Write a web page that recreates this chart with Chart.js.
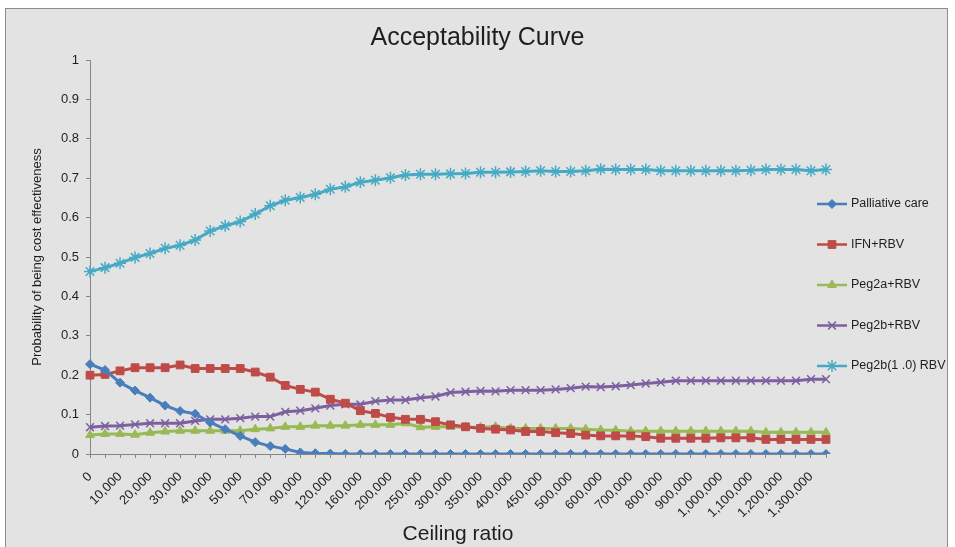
<!DOCTYPE html>
<html>
<head>
<meta charset="utf-8">
<script src="https://cdn.jsdelivr.net/npm/chart.js@4.4.1/dist/chart.umd.min.js"></script>
<style>
  html, body { margin: 0; padding: 0; background: #ffffff; }
  canvas { display: block; }
</style>
</head>
<body>
<canvas id="c" width="955" height="547"></canvas>
<script>
// ---- Data ----
const ceilingRatios = [
  0, 5000, 10000, 15000, 20000, 25000, 30000, 35000, 40000, 45000,
  50000, 60000, 70000, 80000, 90000, 100000, 120000, 140000, 160000, 180000,
  200000, 225000, 250000, 275000, 300000, 325000, 350000, 375000, 400000, 425000,
  450000, 475000, 500000, 550000, 600000, 650000, 700000, 750000, 800000, 850000,
  900000, 950000, 1000000, 1050000, 1100000, 1150000, 1200000, 1250000, 1300000, 1350000
];
const tickLabels = ceilingRatios.map(v => v.toLocaleString('en-US'));

const palliativeCare = [
  0.228, 0.213, 0.181, 0.161, 0.143, 0.123, 0.109, 0.102, 0.080, 0.063,
  0.046, 0.030, 0.020, 0.013, 0.004, 0.002, 0.001, 0, 0, 0,
  0, 0, 0, 0, 0, 0, 0, 0, 0, 0,
  0, 0, 0, 0, 0, 0, 0, 0, 0, 0,
  0, 0, 0, 0, 0, 0, 0, 0, 0, 0
];
const ifnRbv = [
  0.200, 0.202, 0.211, 0.219, 0.219, 0.219, 0.226, 0.217, 0.217, 0.217,
  0.217, 0.208, 0.195, 0.174, 0.164, 0.157, 0.139, 0.129, 0.110, 0.103,
  0.093, 0.088, 0.088, 0.082, 0.074, 0.069, 0.065, 0.063, 0.061, 0.057,
  0.057, 0.054, 0.052, 0.048, 0.046, 0.046, 0.046, 0.044, 0.040, 0.040,
  0.040, 0.040, 0.041, 0.041, 0.041, 0.037, 0.037, 0.037, 0.037, 0.037
];
const peg2aRbv = [
  0.048, 0.051, 0.051, 0.049, 0.054, 0.057, 0.059, 0.059, 0.059, 0.059,
  0.059, 0.063, 0.065, 0.069, 0.069, 0.072, 0.072, 0.072, 0.074, 0.074,
  0.074, 0.078, 0.068, 0.069, 0.069, 0.068, 0.068, 0.069, 0.065, 0.065,
  0.065, 0.065, 0.065, 0.063, 0.061, 0.060, 0.058, 0.058, 0.058, 0.058,
  0.058, 0.058, 0.058, 0.058, 0.058, 0.055, 0.055, 0.055, 0.055, 0.055
];
const peg2bRbv = [
  0.068, 0.071, 0.072, 0.075, 0.078, 0.078, 0.078, 0.084, 0.088, 0.088,
  0.091, 0.095, 0.095, 0.107, 0.110, 0.116, 0.123, 0.126, 0.126, 0.134,
  0.137, 0.137, 0.143, 0.146, 0.156, 0.158, 0.160, 0.159, 0.162, 0.162,
  0.162, 0.164, 0.167, 0.171, 0.170, 0.172, 0.175, 0.179, 0.182, 0.186,
  0.186, 0.186, 0.186, 0.186, 0.186, 0.186, 0.186, 0.186, 0.190, 0.190
];
const peg2b10Rbv = [
  0.463, 0.473, 0.484, 0.499, 0.509, 0.522, 0.530, 0.543, 0.566, 0.579,
  0.590, 0.609, 0.630, 0.644, 0.651, 0.659, 0.672, 0.678, 0.690, 0.695,
  0.701, 0.708, 0.710, 0.710, 0.711, 0.712, 0.715, 0.715, 0.716, 0.717,
  0.719, 0.717, 0.717, 0.719, 0.723, 0.722, 0.722, 0.722, 0.719, 0.719,
  0.719, 0.719, 0.719, 0.719, 0.720, 0.722, 0.722, 0.722, 0.719, 0.722
];
const yTicks = [0, 0.1, 0.2, 0.3, 0.4, 0.5, 0.6, 0.7, 0.8, 0.9, 1];

const FONT = "'Liberation Sans', Arial, sans-serif";
const AXIS = '#868686';
const TXT = '#1e1e1e';

const series = [
  { label: 'Palliative care',  data: palliativeCare, color: '#4a7ebb', pointStyle: 'rectRot',  radius: 4.5 },
  { label: 'IFN+RBV',          data: ifnRbv,         color: '#be4b48', pointStyle: 'rect',     radius: 5.5 },
  { label: 'Peg2a+RBV',        data: peg2aRbv,       color: '#98b954', pointStyle: 'triangle', radius: 5 },
  { label: 'Peg2b+RBV',        data: peg2bRbv,       color: '#7d60a0', pointStyle: 'crossRot', radius: 5.5 },
  { label: 'Peg2b(1 .0) RBV',  data: peg2b10Rbv,     color: '#46aac5', pointStyle: 'star',     radius: 6 }
];

const bgPlugin = {
  id: 'bg',
  beforeDraw(chart) {
    const ctx = chart.ctx;
    ctx.save();
    ctx.fillStyle = '#ffffff';
    ctx.fillRect(0, 0, chart.width, chart.height);
    ctx.fillStyle = '#e2e3e2';
    ctx.fillRect(5, 8, 943, chart.height);
    ctx.strokeStyle = '#8c8c8c';
    ctx.lineWidth = 1;
    ctx.strokeRect(5.5, 8.5, 942, chart.height + 10);
    ctx.restore();
  }
};

const legendPlugin = {
  id: 'sideLegend',
  afterDraw(chart) {
    const ctx = chart.ctx;
    ctx.save();
    chart.data.datasets.forEach((ds, i) => {
      const y = 204 + i * 40.5;
      ctx.strokeStyle = ds.borderColor;
      ctx.lineWidth = 2.5;
      ctx.beginPath();
      ctx.moveTo(817, y);
      ctx.lineTo(847, y);
      ctx.stroke();
      ctx.fillStyle = ds.pointBackgroundColor;
      ctx.strokeStyle = ds.pointBorderColor;
      ctx.lineWidth = ds.pointBorderWidth;
      Chart.helpers.drawPoint(ctx, { pointStyle: ds.pointStyle, radius: ds.pointRadius, rotation: 0, borderWidth: ds.pointBorderWidth }, 832, y);
      ctx.fillStyle = TXT;
      ctx.font = '12.5px ' + FONT;
      ctx.textAlign = 'left';
      ctx.textBaseline = 'middle';
      ctx.fillText(ds.label, 851, y);
    });
    ctx.restore();
  }
};

new Chart(document.getElementById('c'), {
  type: 'line',
  data: {
    labels: tickLabels,
    datasets: series.map(s => ({
      label: s.label,
      data: s.data,
      borderColor: s.color,
      backgroundColor: s.color,
      pointBackgroundColor: s.color,
      pointBorderColor: s.color,
      pointBorderWidth: (s.pointStyle === 'crossRot' || s.pointStyle === 'star') ? 1.5 : 1,
      pointStyle: s.pointStyle,
      pointRadius: s.radius,
      pointHoverRadius: s.radius,
      borderWidth: 3,
      tension: 0,
      fill: false
    }))
  },
  options: {
    responsive: false,
    devicePixelRatio: 1,
    animation: false,
    layout: { padding: { left: 0, right: 0, top: 0, bottom: 0 } },
    plugins: {
      legend: { display: false },
      tooltip: { enabled: false },
      title: {
        display: true,
        text: 'Acceptability Curve',
        color: TXT,
        font: { family: FONT, size: 25, weight: 'normal' },
        padding: { top: 23, bottom: 7 }
      }
    },
    scales: {
      x: {
        type: 'category',
        offset: false,
        grid: { display: true, drawOnChartArea: false, drawTicks: true, tickLength: 4, color: AXIS },
        border: { display: true, color: AXIS, width: 1 },
        ticks: {
          autoSkip: false,
          maxRotation: 45,
          minRotation: 45,
          padding: 11,
          color: TXT,
          font: { family: FONT, size: 13 },
          callback: function (value, index) { return index % 2 === 0 ? this.getLabelForValue(value) : ''; }
        },
        title: {
          display: true,
          text: 'Ceiling ratio',
          color: TXT,
          font: { family: FONT, size: 21 },
          padding: { top: 0, bottom: 0 }
        },
        afterFit(s) { s.height = 93; }
      },
      y: {
        min: 0,
        max: 1,
        grid: { display: true, drawOnChartArea: false, drawTicks: true, tickLength: 4, color: AXIS },
        border: { display: true, color: AXIS, width: 1 },
        afterBuildTicks(s) { s.ticks = yTicks.map(v => ({ value: v })); },
        ticks: {
          padding: 7,
          color: TXT,
          font: { family: FONT, size: 13 },
          callback: v => String(+v.toFixed(1))
        },
        title: {
          display: true,
          text: 'Probability of being cost effectiveness',
          color: TXT,
          font: { family: FONT, size: 13 },
          padding: { top: 30, bottom: 0 }
        },
        afterFit(s) { s.width = 90; }
      },
      legendSpace: {
        position: 'right',
        display: true,
        min: 0,
        max: 1,
        grid: { display: false, drawTicks: false },
        border: { display: false },
        ticks: { display: false },
        afterFit(s) { s.width = 129; }
      }
    }
  },
  plugins: [bgPlugin, legendPlugin]
});
</script>
</body>
</html>
